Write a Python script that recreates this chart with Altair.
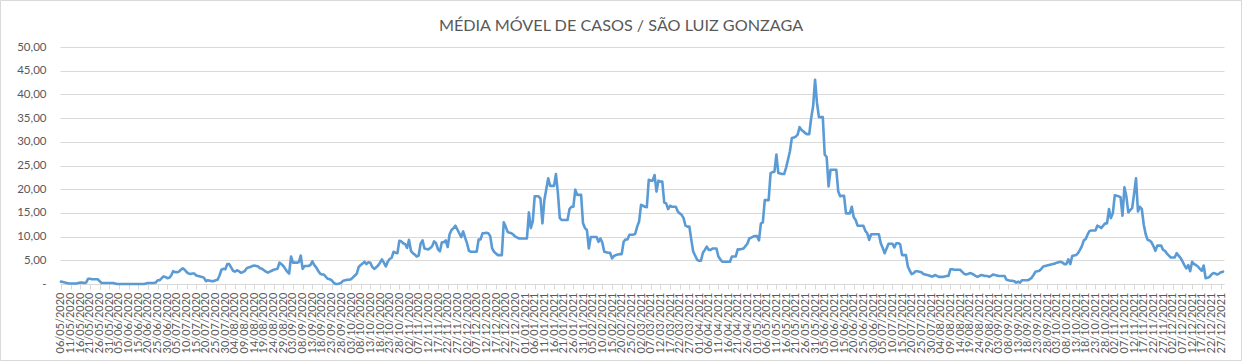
import altair as alt
import pandas as pd

# Média móvel de casos (estimada a partir do gráfico), início em 06/05/2020
inicio = "2020-05-06"

casos_2020 = [
    0.5, 0.4, 0.3, 0.2, 0.1, 0.1, 0.1, 0.1, 0.1, 0.2,
    0.3, 0.3, 0.2, 0.3, 1.1, 1.1, 1.0, 1.0, 1.0, 1.0,
    0.6, 0.2, 0.2, 0.2, 0.2, 0.2, 0.2, 0.2, 0.1, 0.0,
    0.0, 0.0, 0.0, 0.0, 0.0, 0.0, 0.0, 0.0, 0.0, 0.0,
    0.0, 0.0, 0.0, 0.0, 0.1, 0.2, 0.2, 0.2, 0.2, 0.3,
    0.8, 0.8, 1.2, 1.6, 1.5, 1.2, 1.3, 1.8, 2.7, 2.5,
    2.5, 2.6, 3.0, 3.3, 3.0, 2.5, 2.2, 2.1, 2.2, 2.2,
    1.8, 1.7, 1.6, 1.5, 1.3, 0.6, 0.8, 0.7, 0.6, 0.6,
    0.8, 0.9, 1.8, 3.0, 3.2, 3.1, 4.2, 4.2, 3.5, 2.8,
    2.6, 2.9, 2.7, 2.4, 2.5, 2.7, 3.3, 3.5, 3.6, 3.8,
    3.9, 3.8, 3.7, 3.3, 3.2, 2.9, 2.6, 2.4, 2.6, 2.8,
    3.0, 3.1, 3.2, 4.5, 4.2, 3.8, 3.2, 2.6, 2.2, 5.8,
    4.5, 4.5, 4.5, 4.6, 6.0, 3.2, 3.8, 3.8, 3.8, 4.0,
    4.8, 4.0, 3.5, 2.8, 2.2, 2.0, 2.0, 1.5, 1.1, 1.0,
    0.8, 0.3, 0.0, 0.0, 0.1, 0.3, 0.7, 0.8, 0.9, 0.9,
    1.0, 1.4, 1.8, 2.2, 3.6, 4.0, 4.3, 4.7, 4.2, 4.6,
    4.5, 3.6, 3.2, 3.5, 3.9, 4.5, 5.2, 4.5, 3.7, 4.7,
    5.3, 5.5, 6.8, 6.6, 6.5, 9.1, 9.0, 8.6, 8.4, 7.6,
    9.3, 7.0, 6.5, 6.2, 5.8, 6.0, 8.5, 9.2, 7.5, 7.4,
    7.3, 7.6, 8.0, 9.0, 8.6, 7.3, 6.9, 8.8, 8.8, 9.2,
    7.8, 10.5, 11.4, 11.8, 12.3, 11.5, 10.7, 9.9, 11.1, 9.8,
    8.6, 7.0, 6.8, 6.8, 6.8, 6.8, 9.4, 9.4, 10.7, 10.7,
    10.8, 10.7, 10.1, 7.5, 6.8, 6.4, 6.1, 6.1, 6.1, 13.0,
    12.1, 11.0, 10.8, 10.7, 10.4, 10.0, 9.8, 9.6, 9.6, 9.6,
]

casos_2021 = [
    9.6, 9.6, 15.1, 11.8, 13.2, 18.5, 18.5, 18.5, 18.0, 12.8,
    17.7, 20.0, 22.3, 20.7, 20.7, 20.7, 23.2, 19.2, 13.9, 13.5,
    13.5, 13.5, 13.5, 15.8, 16.3, 16.3, 19.9, 18.8, 18.8, 18.8,
    12.8, 11.8, 11.4, 7.5, 9.9, 9.9, 9.9, 9.9, 8.9, 9.6,
    8.7, 6.8, 6.7, 6.6, 6.6, 5.4, 5.9, 6.1, 6.2, 6.3,
    6.3, 8.9, 9.4, 9.4, 10.4, 10.4, 10.4, 10.6, 12.1, 13.2,
    16.7, 16.5, 16.3, 16.2, 22.0, 21.8, 21.8, 23.0, 19.5, 21.8,
    21.6, 21.6, 17.2, 17.0, 15.8, 16.5, 16.3, 16.3, 16.3, 15.3,
    14.9, 14.6, 13.9, 12.3, 12.1, 12.1, 9.3, 6.8, 6.0, 5.1,
    4.9, 4.9, 6.6, 7.2, 7.9, 7.2, 7.2, 7.5, 7.5, 7.5,
    5.8, 5.2, 4.7, 4.7, 4.7, 4.7, 4.7, 5.8, 5.8, 5.8,
    7.3, 7.3, 7.4, 7.5, 8.0, 8.5, 9.6, 9.8, 10.0, 10.1,
    10.1, 9.2, 12.8, 13.0, 17.7, 17.7, 17.7, 23.4, 23.6, 23.7,
    27.3, 23.4, 23.3, 23.2, 23.2, 24.5, 26.2, 28.0, 30.8, 30.9,
    31.1, 31.5, 33.1, 32.5, 32.2, 31.8, 31.6, 31.6, 35.0, 37.5,
    43.1, 38.2, 35.2, 35.2, 35.2, 27.3, 26.8, 20.6, 24.1, 24.1,
    24.1, 24.1, 19.5, 18.5, 18.6, 18.6, 14.9, 14.9, 14.9, 16.3,
    14.1, 13.5, 12.3, 12.3, 12.3, 12.3, 11.2, 10.7, 9.3, 10.5,
    10.5, 10.5, 10.5, 10.5, 8.6, 7.6, 6.5, 7.5, 8.5, 8.5,
    8.5, 7.7, 8.6, 8.6, 8.4, 6.1, 6.1, 6.1, 3.7, 2.8,
    2.1, 2.3, 2.7, 2.7, 2.6, 2.5, 2.1, 2.0, 1.9, 1.8,
    1.6, 1.6, 1.9, 1.7, 1.5, 1.5, 1.5, 1.6, 1.7, 1.7,
    3.1, 3.1, 3.0, 3.0, 3.0, 3.0, 2.6, 2.2, 2.0, 2.1,
    2.3, 2.2, 2.0, 1.7, 1.5, 1.7, 1.9, 1.8, 1.7, 1.7,
    1.5, 1.7, 2.0, 1.9, 1.8, 1.7, 1.7, 1.7, 1.7, 0.9,
    0.8, 0.7, 0.7, 0.6, 0.3, 0.5, 0.3, 0.8, 0.8, 0.8,
    0.8, 1.0, 1.3, 1.9, 2.6, 2.7, 2.8, 3.2, 3.7, 3.8,
    3.9, 4.0, 4.1, 4.2, 4.3, 4.5, 4.6, 4.7, 4.5, 4.2,
    4.2, 5.2, 4.2, 5.9, 6.0, 6.1, 6.5, 7.2, 8.0, 9.2,
    9.5, 10.5, 11.2, 11.3, 11.3, 11.3, 12.3, 12.1, 11.8, 12.3,
    12.8, 12.8, 15.8, 13.9, 14.9, 18.7, 18.6, 18.5, 18.3, 14.4,
    20.4, 18.5, 15.1, 15.6, 16.0, 19.0, 22.3, 15.3, 16.3, 15.8,
    12.5, 10.5, 9.3, 9.2, 8.8, 8.0, 7.0, 8.1, 8.1, 8.1,
    7.2, 7.0, 6.4, 6.0, 5.6, 5.6, 5.6, 6.5, 6.0, 5.5,
    4.8, 4.0, 3.3, 4.0, 2.7, 4.7, 4.2, 4.0, 3.7, 3.2,
    2.8, 3.9, 1.2, 1.3, 1.5, 2.0, 2.3, 2.2, 2.0, 2.2,
    2.5, 2.6,
]

y_ticks = [0, 5, 10, 15, 20, 25, 30, 35, 40, 45, 50]
titulo = "MÉDIA MÓVEL DE CASOS / SÃO LUIZ GONZAGA"

valores = casos_2020 + casos_2021
datas = pd.date_range(inicio, periods=len(valores), freq="D")
rotulos = [d.strftime("%d/%m/%Y") for d in datas]
df = pd.DataFrame({"data": rotulos, "media": valores})
x_ticks = rotulos[::5]

FONT = "Lato"
GRAY = "#595959"
GRID = "#d9d9d9"

line = alt.Chart(df).mark_line(
    color="#5b9bd5", strokeWidth=2.6, strokeJoin="round", strokeCap="round"
).encode(
    x=alt.X(
        "data:O",
        sort=None,
        scale=alt.Scale(type="point", padding=0.5),
        axis=alt.Axis(
            values=x_ticks,
            labelAngle=270,
            labelFont=FONT,
            labelFontSize=11,
            labelColor=GRAY,
            labelOverlap=False,
            labelPadding=3,
            domainColor=GRID,
            tickColor=GRID,
            tickSize=5,
            grid=False,
            title=None,
        ),
    ),
    y=alt.Y(
        "media:Q",
        scale=alt.Scale(domain=[0, 50], nice=False),
        axis=alt.Axis(
            values=y_ticks,
            labelExpr="datum.value == 0 ? '-' : replace(format(datum.value, '.2f'), '.', ',')",
            labelFont=FONT,
            labelFontSize=11.5,
            labelColor=GRAY,
            labelPadding=14,
            domain=False,
            ticks=False,
            gridColor=GRID,
            gridWidth=1,
            title=None,
        ),
    ),
)

border = alt.Chart(pd.DataFrame({"b": [0]})).mark_rect(
    fill="white", fillOpacity=0, stroke=GRID, strokeWidth=1
).encode(
    x=alt.value(-59.5), x2=alt.value(1181.5), y=alt.value(-46.5), y2=alt.value(313.5)
)

chart = alt.layer(border, line).properties(
    width=1164,
    height=237,
    autosize="none",
    padding={"left": 60, "top": 47, "right": 18, "bottom": 77},
    title=alt.Title(
        titulo,
        font=FONT,
        fontSize=16.2,
        fontWeight="normal",
        color=GRAY,
        anchor="middle",
        offset=-34,
        dx=-21,
    ),
    background="white",
).configure_view(stroke=None)

chart.save("out.html", embed_options={"renderer": "svg", "actions": False})
